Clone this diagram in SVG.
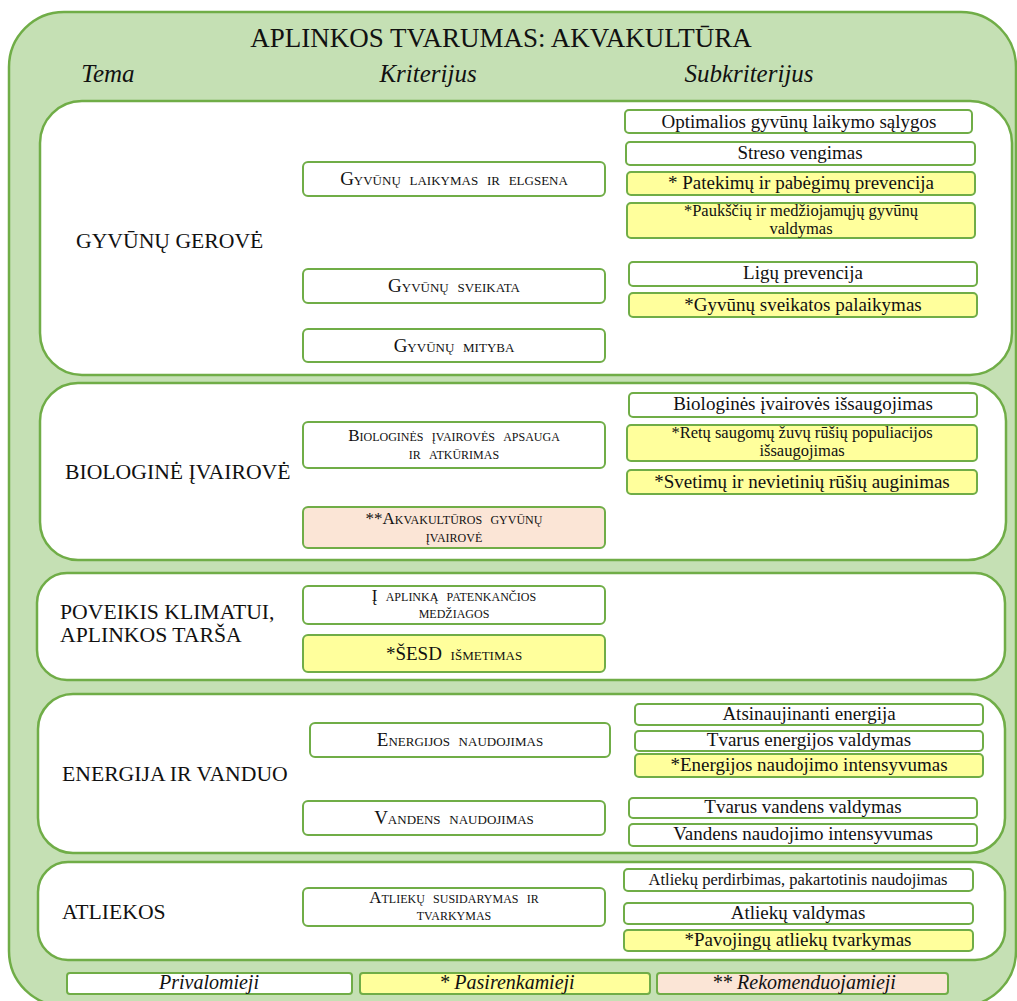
<svg xmlns="http://www.w3.org/2000/svg" width="1017" height="1001" viewBox="0 0 1017 1001">
  <style>
    .frame { fill: #c5e0b4; stroke: #70ad47; stroke-width: 2.5; }
    .panel { fill: #ffffff; stroke: #70ad47; stroke-width: 2.5; }
    .box { fill: #ffffff; stroke: #70ad47; stroke-width: 2; }
    .opt { fill: #ffff9c; }
    .rec { fill: #fbe5d6; }
    text { fill: #111111; text-anchor: middle; }
    .title { font-size: 27px; }
    .head { font-size: 25px; font-style: italic; }
    .theme { font-size: 21.7px; text-anchor: start; }
    .crit { font-size: 19px; font-variant: small-caps; word-spacing: 4px; }
    .crit2 { font-size: 17px; font-variant: small-caps; word-spacing: 4px; }
    .sub { font-size: 19px; }
    .sub2 { font-size: 16.5px; }
    .leg { font-size: 20px; font-style: italic; }
  </style>

  <g font-family="'Liberation Serif', 'DejaVu Serif', serif">
  <!-- outer frame and headings -->
  <rect class="frame" x="9" y="12" width="1007" height="994" rx="55"/>
  <text class="title" x="501" y="47">APLINKOS TVARUMAS: AKVAKULTŪRA</text>
  <text class="head" x="108" y="82">Tema</text>
  <text class="head" x="428" y="82">Kriterijus</text>
  <text class="head" x="749" y="82">Subkriterijus</text>

  <!-- theme: animal welfare -->
  <g id="theme-gerove">
    <rect class="panel" x="40" y="101" width="972" height="274" rx="42"/>
    <text class="theme" x="76" y="248">GYVŪNŲ GEROVĖ</text>
  </g>
  <g id="crit-laikymas">
    <rect class="box" x="303" y="162" width="302" height="34" rx="5"/>
    <text class="crit" x="454" y="185">Gyvūnų laikymas ir elgsena</text>
  </g>
  <g id="crit-sveikata">
    <rect class="box" x="303" y="269" width="302" height="34" rx="5"/>
    <text class="crit" x="454" y="292">Gyvūnų sveikata</text>
  </g>
  <g id="crit-mityba">
    <rect class="box" x="303" y="329" width="302" height="33" rx="5"/>
    <text class="crit" x="454" y="352">Gyvūnų mityba</text>
  </g>
  <g id="sub-salygos">
    <rect class="box" x="625" y="110" width="347" height="23" rx="4"/>
    <text class="sub" x="799" y="128">Optimalios gyvūnų laikymo sąlygos</text>
  </g>
  <g id="sub-stresas">
    <rect class="box" x="626" y="142" width="349" height="23" rx="4"/>
    <text class="sub" x="800" y="159">Streso vengimas</text>
  </g>
  <g id="sub-pabegimai">
    <rect class="box opt" x="627" y="172" width="348" height="23" rx="4"/>
    <text class="sub" x="801" y="189">* Patekimų ir pabėgimų prevencija</text>
  </g>
  <g id="sub-pauksciai">
    <rect class="box opt" x="627" y="203" width="348" height="35" rx="4"/>
    <text class="sub2" x="801" y="216">*Paukščių ir medžiojamųjų gyvūnų</text>
    <text class="sub2" x="801" y="234">valdymas</text>
  </g>
  <g id="sub-ligos">
    <rect class="box" x="629" y="262" width="348" height="24" rx="4"/>
    <text class="sub" x="803" y="279">Ligų prevencija</text>
  </g>
  <g id="sub-palaikymas">
    <rect class="box opt" x="629" y="293" width="348" height="24" rx="4"/>
    <text class="sub" x="803" y="311">*Gyvūnų sveikatos palaikymas</text>
  </g>

  <!-- theme: biodiversity -->
  <g id="theme-ivairove">
    <rect class="panel" x="40" y="383" width="966" height="177" rx="38"/>
    <text class="theme" x="65" y="479">BIOLOGINĖ ĮVAIROVĖ</text>
  </g>
  <g id="crit-apsauga">
    <rect class="box" x="303" y="422" width="302" height="46" rx="5"/>
    <text class="crit2" x="454" y="441">Biologinės įvairovės apsauga</text>
    <text class="crit2" x="454" y="459">ir atkūrimas</text>
  </g>
  <g id="crit-akvakultura">
    <rect class="box rec" x="303" y="507" width="302" height="41" rx="5"/>
    <text class="crit2" x="454" y="524">**Akvakultūros gyvūnų</text>
    <text class="crit2" x="454" y="542">įvairovė</text>
  </g>
  <g id="sub-issaugojimas">
    <rect class="box" x="629" y="393" width="348" height="24" rx="4"/>
    <text class="sub" x="803" y="410">Biologinės įvairovės išsaugojimas</text>
  </g>
  <g id="sub-retos">
    <rect class="box opt" x="627" y="425" width="350" height="36" rx="4"/>
    <text class="sub2" x="802" y="438">*Retų saugomų žuvų  rūšių populiacijos</text>
    <text class="sub2" x="802" y="456">išsaugojimas</text>
  </g>
  <g id="sub-svetimos">
    <rect class="box opt" x="627" y="470" width="350" height="24" rx="4"/>
    <text class="sub" x="802" y="488">*Svetimų ir nevietinių rūšių auginimas</text>
  </g>

  <!-- theme: climate impact, pollution -->
  <g id="theme-tarsa">
    <rect class="panel" x="37" y="573" width="968" height="107" rx="30"/>
    <text class="theme" x="60" y="619">POVEIKIS KLIMATUI,</text>
    <text class="theme" x="60" y="642">APLINKOS TARŠA</text>
  </g>
  <g id="crit-medziagos">
    <rect class="box" x="303" y="586" width="302" height="38" rx="5"/>
    <text class="crit2" x="454" y="601">Į aplinką patenkančios</text>
    <text class="crit2" x="454" y="618">medžiagos</text>
  </g>
  <g id="crit-sesd">
    <rect class="box opt" x="303" y="635" width="302" height="37" rx="5"/>
    <text class="crit" x="454" y="660">*ŠESD išmetimas</text>
  </g>

  <!-- theme: energy and water -->
  <g id="theme-energija">
    <rect class="panel" x="38" y="694" width="967" height="159" rx="35"/>
    <text class="theme" x="62" y="781">ENERGIJA IR VANDUO</text>
  </g>
  <g id="crit-energija">
    <rect class="box" x="310" y="723" width="300" height="34" rx="5"/>
    <text class="crit" x="460" y="746">Energijos naudojimas</text>
  </g>
  <g id="crit-vanduo">
    <rect class="box" x="303" y="801" width="302" height="34" rx="5"/>
    <text class="crit" x="454" y="824">Vandens naudojimas</text>
  </g>
  <g id="sub-atsinaujinanti">
    <rect class="box" x="635" y="704" width="348" height="21" rx="4"/>
    <text class="sub" x="809" y="720">Atsinaujinanti energija</text>
  </g>
  <g id="sub-energijos-valdymas">
    <rect class="box" x="635" y="731" width="348" height="20" rx="4"/>
    <text class="sub" x="809" y="746">Tvarus energijos valdymas</text>
  </g>
  <g id="sub-energijos-intensyvumas">
    <rect class="box opt" x="635" y="754" width="348" height="23" rx="4"/>
    <text class="sub" x="809" y="771">*Energijos naudojimo intensyvumas</text>
  </g>
  <g id="sub-vandens-valdymas">
    <rect class="box" x="629" y="798" width="348" height="20" rx="4"/>
    <text class="sub" x="803" y="813">Tvarus vandens valdymas</text>
  </g>
  <g id="sub-vandens-intensyvumas">
    <rect class="box" x="629" y="824" width="348" height="22" rx="4"/>
    <text class="sub" x="803" y="840">Vandens naudojimo intensyvumas</text>
  </g>

  <!-- theme: waste -->
  <g id="theme-atliekos">
    <rect class="panel" x="38" y="862" width="967" height="98" rx="30"/>
    <text class="theme" x="62" y="919">ATLIEKOS</text>
  </g>
  <g id="crit-atliekos">
    <rect class="box" x="303" y="888" width="302" height="38" rx="5"/>
    <text class="crit2" x="454" y="903">Atliekų susidarymas ir</text>
    <text class="crit2" x="454" y="920">tvarkymas</text>
  </g>
  <g id="sub-perdirbimas">
    <rect class="box" x="624" y="869" width="349" height="22" rx="4"/>
    <text class="sub" x="798" y="885" style="font-size:16.5px">Atliekų perdirbimas, pakartotinis naudojimas</text>
  </g>
  <g id="sub-atlieku-valdymas">
    <rect class="box" x="624" y="903" width="349" height="21" rx="4"/>
    <text class="sub" x="798" y="919">Atliekų valdymas</text>
  </g>
  <g id="sub-pavojingos">
    <rect class="box opt" x="624" y="930" width="349" height="21" rx="4"/>
    <text class="sub" x="798" y="946">*Pavojingų atliekų tvarkymas</text>
  </g>

  <!-- legend -->
  <g id="legend-privalomieji">
    <rect class="box" x="67" y="973" width="285" height="21" rx="3"/>
    <text class="leg" x="209" y="989">Privalomieji</text>
  </g>
  <g id="legend-pasirenkamieji">
    <rect class="box opt" x="360" y="973" width="290" height="21" rx="3"/>
    <text class="leg" x="507" y="989">* Pasirenkamieji</text>
  </g>
  <g id="legend-rekomenduojamieji">
    <rect class="box rec" x="657" y="973" width="291" height="21" rx="3"/>
    <text class="leg" x="804" y="989">** Rekomenduojamieji</text>
  </g>

  <!-- no connectors are drawn between the nodes -->
  <g id="connectors"/>
  </g>
</svg>
